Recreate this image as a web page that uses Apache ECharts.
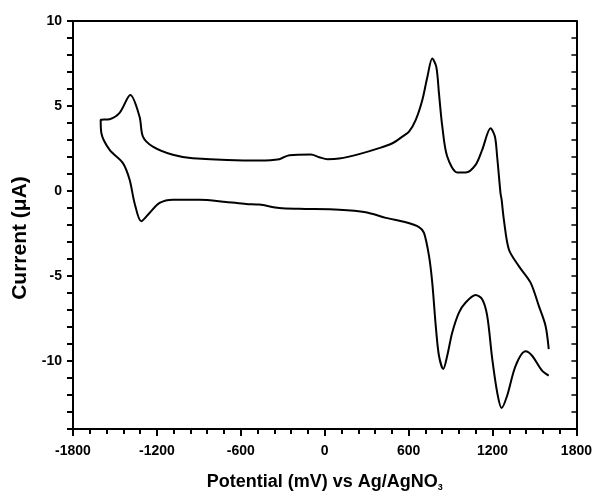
<!DOCTYPE html>
<html>
<head>
<meta charset="utf-8">
<script src="https://cdn.jsdelivr.net/npm/echarts@6/dist/echarts.min.js"></script>
<style>html,body{margin:0;padding:0;background:#fff}#c{width:595px;height:497px}</style>
</head>
<body>
<div id="c"></div>
<script>
// Cyclic voltammogram: potential (mV vs Ag/AgNO3) and current (µA), traced in scan order
const potential = [1602,1554,1483,1436,1365,1305,1265,1233,1198,1162,1126,1079,1008,960,912,876,848,817,794,769,746,710,674,580,437,294,103,-182,-325,-468,-562,-705,-896,-1086,-1181,-1253,-1312,-1360,-1395,-1443,-1538,-1597,-1602,
  -1538,-1467,-1390,-1324,-1300,-1229,-1086,-944,-468,-325,-253,-99,-39,20,103,246,389,484,555,603,651,698,734,769,798,817,841,876,948,1008,1079,1126,1186,1217,1233,1257,1265,1281,1317,1388,1472,1531,1579,1602];
const current = [-10.86,-10.57,-9.69,-9.43,-10.28,-12.03,-12.77,-11.83,-9.88,-7.35,-6.37,-6.12,-6.56,-7.15,-8.32,-9.69,-10.47,-9.69,-7.93,-5.39,-3.83,-2.46,-2.12,-1.84,-1.58,-1.25,-1.10,-1.05,-1.0,-0.80,-0.76,-0.64,-0.51,-0.51,-0.70,-1.29,-1.78,-0.70,0.66,1.64,2.42,3.40,4.18,
  4.22,4.59,5.64,4.37,3.20,2.61,2.13,1.93,1.79,1.87,2.11,2.14,1.99,1.87,1.91,2.17,2.52,2.81,3.20,3.49,4.18,5.35,6.71,7.79,7.30,5.74,3.78,2.03,1.09,1.09,1.54,2.42,3.69,3.20,2.03,-0.12,-0.51,-1.68,-3.44,-4.42,-5.39,-6.76,-7.93,-9.30];
const xTicks = [-1800,-1200,-600,0,600,1200,1800];
const yTickLabels = [-10,-5,0,5,10];

const data = potential.map((p, i) => [p, current[i]]);
const chart = echarts.init(document.getElementById('c'), null, {renderer: 'canvas'});
const font = 'Liberation Sans, Arial, Helvetica, sans-serif';
const lineStyle = {color: '#000', width: 2};
chart.setOption({
  animation: false,
  backgroundColor: '#fff',
  grid: {left: 73, right: 17, top: 21, bottom: 66, containLabel: false},
  xAxis: [{
    type: 'value', min: -1800, max: 1800, interval: 600,
    axisLine: {show: true, onZero: false, lineStyle: lineStyle},
    axisTick: {show: true, inside: false, length: 7, lineStyle: {color: '#000', width: 2}},
    minorTick: {show: true, splitNumber: 5, length: 5, lineStyle: {color: '#000', width: 2}},
    axisLabel: {color: '#000', fontFamily: font, fontWeight: 'bold', fontSize: 14, margin: 15,
      formatter: v => xTicks.indexOf(v) >= 0 ? String(v) : ''},
    splitLine: {show: false},
    name: '{a|Potential (mV) vs Ag/AgNO}{s|3}',
    nameLocation: 'middle', nameGap: 43,
    nameTextStyle: {rich: {
      a: {fontFamily: font, fontWeight: 'bold', fontSize: 18, color: '#000'},
      s: {fontFamily: font, fontWeight: 'bold', fontSize: 9, color: '#000', verticalAlign: 'bottom', padding: [11, 0, 0, 0]}
    }}
  }, {
    type: 'value', position: 'top', min: -1800, max: 1800, interval: 600,
    axisLine: {show: true, onZero: false, lineStyle: lineStyle},
    axisTick: {show: false}, axisLabel: {show: false}, splitLine: {show: false}
  }],
  yAxis: [{
    type: 'value', min: -14, max: 10, interval: 1,
    axisLine: {show: true, onZero: false, lineStyle: lineStyle},
    axisTick: {show: true, inside: false, length: 6, lineStyle: {color: '#000', width: 2}},
    axisLabel: {color: '#000', fontFamily: font, fontWeight: 'bold', fontSize: 14, margin: 11,
      formatter: v => yTickLabels.indexOf(v) >= 0 ? String(v) : ''},
    splitLine: {show: false},
    name: 'Current (μA)', nameLocation: 'middle', nameGap: 40, nameRotate: 90,
    nameTextStyle: {fontFamily: font, fontWeight: 'bold', fontSize: 21, color: '#000', padding: [0, 26, 0, 0]}
  }, {
    type: 'value', position: 'right', min: -14, max: 10, interval: 1,
    axisLine: {show: true, onZero: false, lineStyle: lineStyle},
    axisTick: {show: true, inside: true, length: 5, lineStyle: {color: '#000', width: 1.5}},
    axisLabel: {show: false}, splitLine: {show: false}
  }],
  series: [{
    type: 'line', xAxisIndex: 0, yAxisIndex: 0, data: data,
    showSymbol: false, smooth: 0.3,
    lineStyle: {color: '#000', width: 2}
  }]
});
</script>
</body>
</html>
